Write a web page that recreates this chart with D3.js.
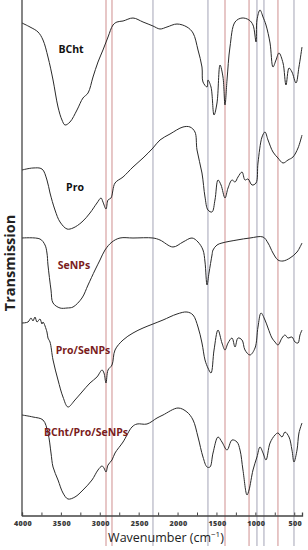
<!DOCTYPE html>
<html><head><meta charset="utf-8">
<script src="https://cdn.jsdelivr.net/npm/d3@7"></script>
<style>html,body{margin:0;padding:0;background:#fff;}svg{display:block;}</style>
</head><body>
<script>
// wavenumber (cm-1) arrays and offset transmission values (arb. units)
const bchtW = [4000,3897,3794,3730,3666,3601,3537,3486,3447,3383,3293,3216,3151,3087,3023,2959,2894,2830,2779,2701,2573,2444,2316,2226,2136,2007,1879,1801,1737,1686,1673,1621,1609,1570,1531,1493,1454,1416,1390,1364,1326,1261,1171,1081,1030,991,979,940,901,863,811,773,734,696,644,606,567,529,477,439,400];
const bchtT = [492,488,483,475,458,435,408,395,390,393,405,417,422,438,453,465,478,490,493,494,497,493,489,486,488,491,488,482,465,448,433,428,435,428,400,412,450,438,410,435,468,493,497,495,490,473,495,505,498,490,472,448,455,462,452,430,447,443,432,448,468];

const proW = [4000,3859,3743,3679,3640,3576,3511,3421,3344,3229,3126,3036,2984,2959,2920,2894,2856,2804,2701,2573,2444,2316,2226,2097,1930,1840,1776,1750,1686,1647,1609,1557,1519,1480,1441,1390,1351,1300,1261,1223,1171,1133,1094,1043,991,966,914,876,837,773,709,644,580,516,451,400];
const proT = [345,347,346,335,322,305,293,286,287,293,302,312,317,313,306,315,317,332,338,348,357,367,375,381,388,388,383,365,342,318,305,303,315,335,330,317,327,335,333,338,343,335,336,330,332,352,378,383,375,363,357,352,355,358,367,380];

const seW = [4000,3769,3704,3679,3666,3627,3601,3511,3421,3344,3229,3151,3061,2997,2933,2843,2740,2573,2316,2226,2059,1930,1814,1737,1673,1647,1621,1596,1557,1544,1493,1429,1236,1069,901,837,773,709,644,554,464,400];
const seT = [277,276,270,262,250,225,212,207,207,208,217,230,245,255,265,273,277,277,277,275,268,273,277,273,265,253,230,242,260,265,270,272,275,277,278,272,262,255,254,257,263,272];

const proSeW = [4000,3923,3884,3859,3833,3807,3769,3743,3730,3679,3666,3640,3601,3537,3473,3409,3319,3229,3126,3036,2971,2946,2920,2894,2843,2804,2701,2573,2444,2316,2187,2007,1879,1801,1737,1686,1647,1609,1570,1531,1480,1429,1390,1351,1300,1261,1223,1171,1133,1069,1004,966,927,876,837,786,747,709,657,619,580,529,490,451,426,400];
const proSeT = [192,193,197,194,198,193,196,191,193,183,177,173,155,135,118,108,115,123,132,138,145,142,132,145,150,165,175,182,187,191,195,201,203,200,188,172,155,147,142,165,185,172,165,172,177,168,177,175,165,160,167,188,202,195,187,177,173,170,177,180,177,178,173,172,180,185];

const triW = [4000,3859,3730,3666,3627,3601,3537,3473,3409,3319,3216,3100,3023,2971,2946,2920,2894,2843,2804,2701,2586,2521,2393,2264,2187,1994,1879,1801,1737,1673,1621,1583,1544,1480,1429,1364,1300,1236,1197,1159,1107,1081,1030,979,940,901,863,811,747,709,657,619,567,529,503,464,439,400];
const triT = [100,98,95,82,62,48,35,22,16,18,25,35,45,49,47,43,50,55,62,73,88,91,91,97,100,107,103,95,78,58,48,48,62,78,73,65,75,73,65,45,20,25,45,58,68,62,55,72,80,82,78,83,78,65,53,65,82,92];

const seriesNames = ["BCht","Pro","SeNPs","Pro/SeNPs","BCht/Pro/SeNPs"];
const seriesLabelColors = ["#111","#111","#7a1c1c","#7a1c1c","#7a1c1c"];
const refLinesW = [2920,2843,2316,1609,1390,1081,979,889,709,503];
const refLinesType = ["r","r","g","g","r","r","g","g","r","g"];
const xTicks = [4000,3500,3000,2500,2000,1500,1000,500];
const xMinorTicks = [4000,3750,3500,3250,3000,2750,2500,2250,2000,1750,1500,1250,1000,750,500];

const W = 308, H = 550;
const svg = d3.select("body").append("svg").attr("width", W).attr("height", H);

const x = d3.scaleLinear().domain([4000, 400]).range([22, 302]);
const y = d3.scaleLinear().domain([0, 515]).range([515, 0]);

// reference lines
svg.append("g").selectAll("line").data(refLinesW).join("line")
  .attr("x1", d => x(d)).attr("x2", d => x(d))
  .attr("y1", 0).attr("y2", 546)
  .attr("stroke", (d, i) => refLinesType[i] === "r" ? "#cf8f8f" : "#a4a4b6")
  .attr("stroke-width", 1);

// axes
const xAxis = d3.axisBottom(x).tickValues(xMinorTicks).tickSize(-3).tickFormat("");
svg.append("g").attr("transform", "translate(0,515.5)").call(xAxis)
  .call(g => g.select(".domain").attr("stroke", "#444").attr("stroke-width", 1.3))
  .call(g => g.selectAll(".tick line").attr("stroke", "#444"));
svg.append("g").selectAll("text").data(xTicks).join("text")
  .attr("x", d => x(d) + 1).attr("y", 525.5)
  .attr("text-anchor", "middle")
  .attr("font-family", "Open Sans, sans-serif").attr("font-weight", "800")
  .attr("font-size", 7.2).attr("fill", "#3a3a3a").attr("letter-spacing", 0.3)
  .text(d => d);

svg.append("line").attr("x1", 22).attr("x2", 22).attr("y1", 0).attr("y2", 516)
  .attr("stroke", "#444").attr("stroke-width", 1.3);

svg.append("text").attr("x", 166).attr("y", 542).attr("text-anchor", "middle")
  .attr("font-family", "Open Sans, sans-serif").attr("font-size", 12.5).attr("fill", "#222")
  .text("Wavenumber (cm").append("tspan").attr("dy", -5).attr("font-size", 8).text("−1")
  .select(function(){ return this.parentNode; }).append("tspan").attr("dy", 5).text(")");

svg.append("text").attr("transform", "translate(15,263) rotate(-90)").attr("text-anchor", "middle")
  .attr("font-family", "Open Sans, sans-serif").attr("font-weight", "bold")
  .attr("font-size", 14.5).attr("fill", "#222").text("Transmission");

// spectra
const specs = [[bchtW, bchtT], [proW, proT], [seW, seT], [proSeW, proSeT], [triW, triT]];
const line = d3.line().x(d => x(d[0])).y(d => y(d[1])).curve(d3.curveCatmullRom.alpha(0.5));
specs.forEach(([ws, ts]) => {
  svg.append("path").datum(ws.map((w, i) => [w, ts[i]]))
    .attr("d", line).attr("fill", "none").attr("stroke", "#2a2a2a").attr("stroke-width", 1);
});

// labels
const labelPos = [[71, 53], [75, 191], [74, 269], [83, 354], [86, 436]];
svg.append("g").selectAll("text").data(seriesNames).join("text")
  .attr("x", (d, i) => labelPos[i][0]).attr("y", (d, i) => labelPos[i][1])
  .attr("text-anchor", "middle")
  .attr("font-family", "Open Sans, sans-serif").attr("font-weight", "bold")
  .attr("font-size", 10.5).attr("fill", (d, i) => seriesLabelColors[i])
  .text(d => d);
</script>
</body></html>
